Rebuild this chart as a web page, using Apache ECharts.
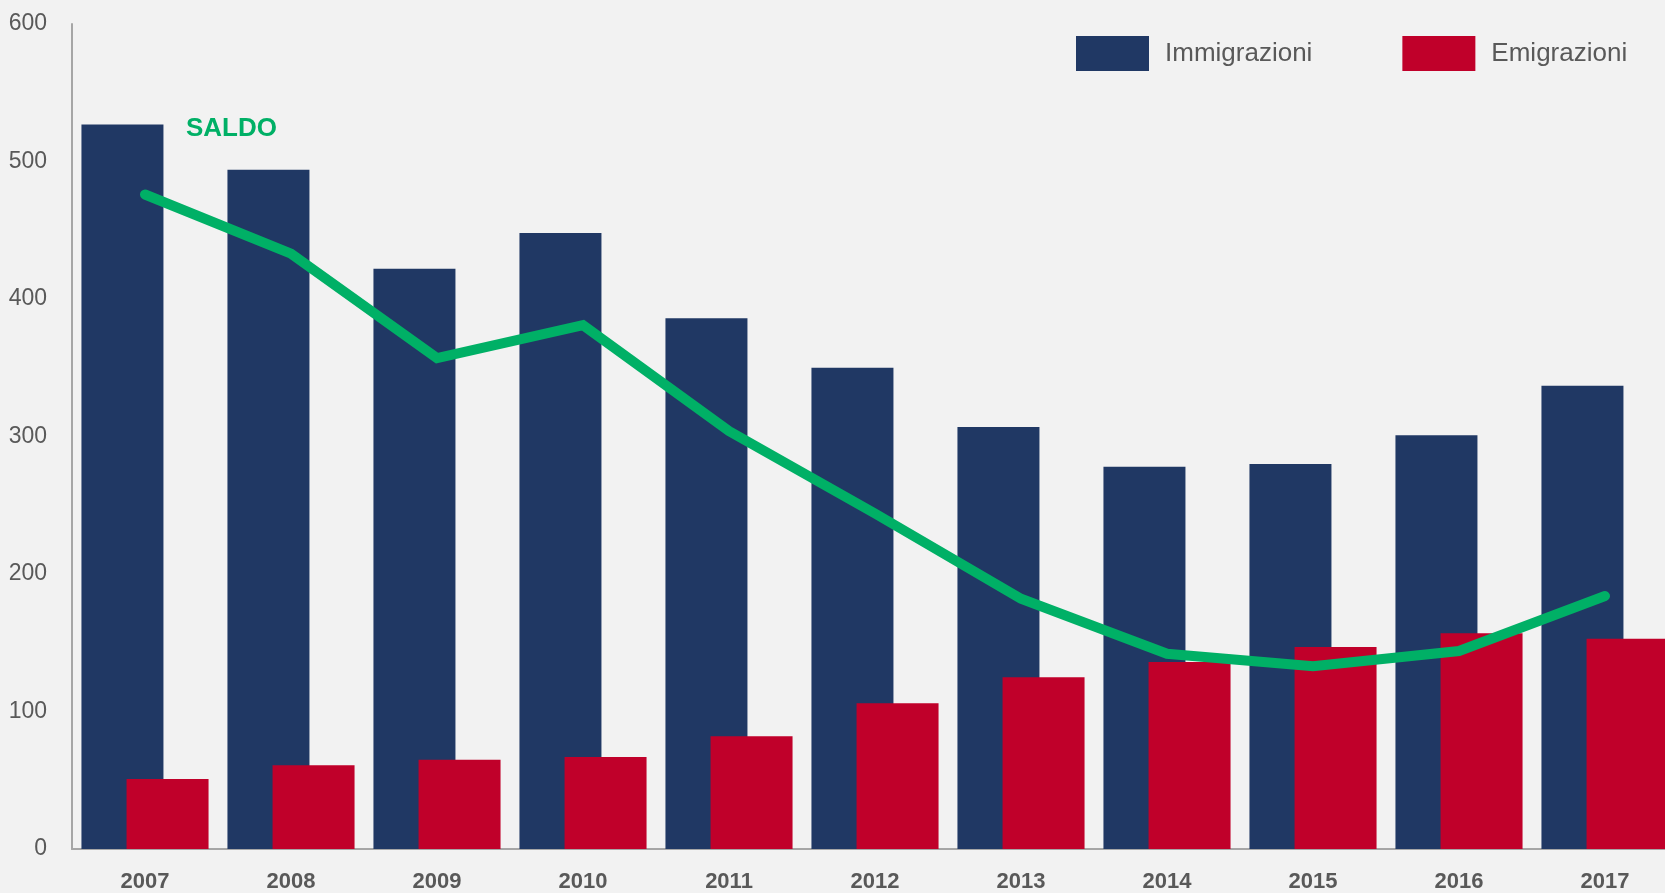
<!DOCTYPE html>
<html>
<head>
<meta charset="utf-8">
<script src="https://cdn.jsdelivr.net/npm/echarts@6/dist/echarts.min.js"></script>
<style>
  html, body { margin: 0; padding: 0; background: #F2F2F2; overflow: hidden; width: 1665px; height: 893px; }
  /* the plot runs slightly past the right edge of the page, so the canvas is wider than the window */
  #chart { width: 1700px; height: 893px; }
</style>
</head>
<body>
<div id="chart"></div>
<script>
// Migration flows per year (thousands)
const years = ['2007', '2008', '2009', '2010', '2011', '2012', '2013', '2014', '2015', '2016', '2017'];
const immigrazioni = [527, 494, 422, 448, 386, 350, 307, 278, 280, 301, 337];
const emigrazioni = [51, 61, 65, 67, 82, 106, 125, 136, 147, 157, 153];
const saldo = [476, 433, 357, 381, 304, 244, 182, 142, 133, 144, 184];
const yTicks = { min: 0, max: 600, interval: 100 };

const FONT = '"Liberation Sans Narrow", "Arial Narrow", "Liberation Sans", Arial, sans-serif';
const TEXT = '#595959';

const chart = echarts.init(document.getElementById('chart'));
chart.setOption({
  backgroundColor: '#F2F2F2',
  animation: false,
  textStyle: { fontFamily: FONT },
  grid: { left: 72, top: 24, bottom: 44, width: 1606, containLabel: false },
  legend: {
    left: 1076, top: 36, padding: 0,
    itemWidth: 73, itemHeight: 35, itemGap: 90,
    icon: 'rect',
    textStyle: { fontFamily: FONT, fontSize: 26, color: TEXT, padding: [9, 0, 0, 11] },
    data: ['Immigrazioni', 'Emigrazioni']
  },
  graphic: [{
    type: 'text', left: 186, top: 116,
    style: { text: 'SALDO', fill: '#00B066', font: 'bold 26px ' + FONT }
  }],
  xAxis: {
    type: 'category',
    data: years,
    axisLine: { lineStyle: { color: '#A6A6A6', width: 2 } },
    axisTick: { show: false },
    axisLabel: { fontFamily: FONT, fontSize: 22, fontWeight: 'bold', color: TEXT, margin: 22 }
  },
  yAxis: {
    type: 'value',
    min: yTicks.min, max: yTicks.max, interval: yTicks.interval,
    axisLine: { show: true, lineStyle: { color: '#A6A6A6', width: 2 } },
    axisTick: { show: false },
    splitLine: { show: false },
    axisLabel: { fontFamily: FONT, fontSize: 23, color: TEXT, margin: 25 }
  },
  series: [
    {
      name: 'Immigrazioni', type: 'bar', data: immigrazioni,
      barWidth: 82, barGap: '-45%',
      itemStyle: { color: '#203864' }
    },
    {
      name: 'Emigrazioni', type: 'bar', data: emigrazioni,
      barWidth: 82,
      itemStyle: { color: '#C0002A' }
    },
    {
      name: 'Saldo', type: 'line', data: saldo,
      symbol: 'none', z: 5,
      lineStyle: { color: '#00B066', width: 10, cap: 'round', join: 'miter' }
    }
  ]
});
</script>
</body>
</html>
